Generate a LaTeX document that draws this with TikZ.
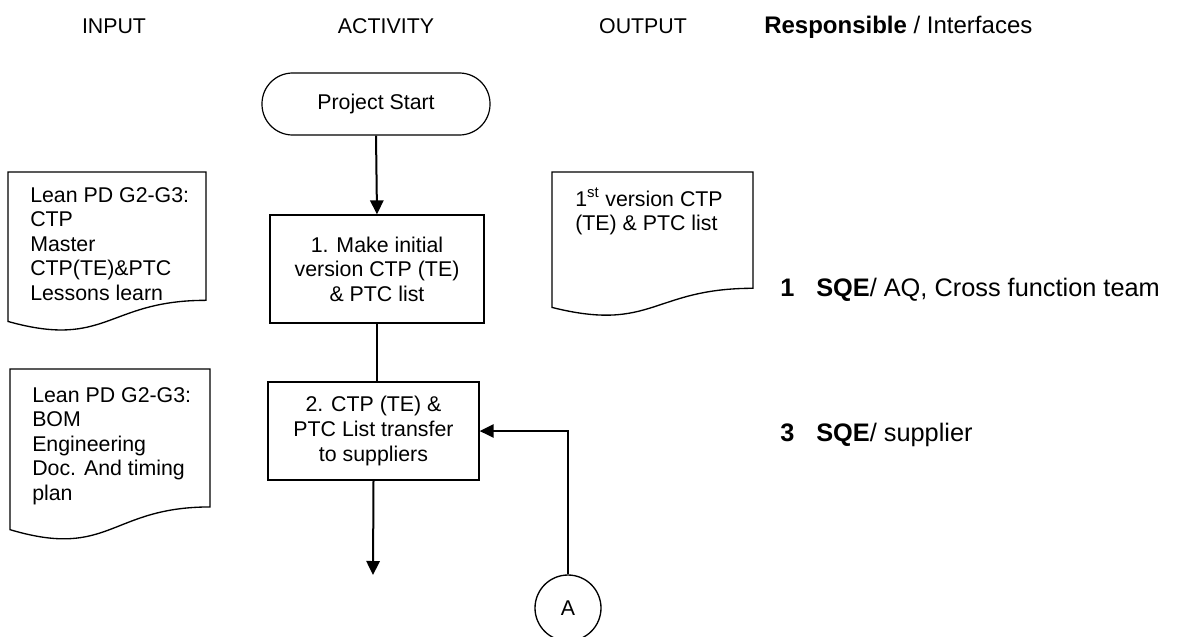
\documentclass[tikz,border=0pt]{standalone}
\usepackage{fontspec}
\setmainfont{Liberation Sans}
\usetikzlibrary{arrows.meta,positioning,calc}

% document sheet with a wavy lower edge: name, x, y, width, height
\newcommand{\docsheet}[5]{%
  \coordinate (#1) at (#2,#3);
  \pgfmathsetmacro{\dr}{#3+0.802*#5}
  \pgfmathsetmacro{\dl}{#3+0.934*#5}
  \pgfmathsetmacro{\dc}{#3+1.1075*#5}
  \pgfmathsetmacro{\dm}{#2+0.5*#4}
  \draw[sheet] (#1) -- (#2+#4,#3) -- (#2+#4,\dr)
    .. controls (\dm,\dr) and (\dm,\dc) .. (#2,\dl) -- cycle;
}

\begin{document}
\begin{tikzpicture}[
  x=0.75pt, y=-0.75pt,
  >={Triangle[length=10.5pt,width=10pt]},
  every node/.style={font=\fontsize{16}{18.4}\selectfont, inner sep=0pt},
  head/.style={anchor=base},
  terminal/.style={draw, rounded corners=23pt, minimum width=171pt, minimum height=46.5pt, line width=0.9pt},
  activity/.style={draw, align=center, line width=1pt},
  doctext/.style={align=left, anchor=north west},
  connector/.style={draw, circle, minimum size=49.5pt, line width=1pt},
  sheet/.style={line width=1pt},
  flow/.style={line width=1.5pt},
  resp/.style={anchor=base west, font=\fontsize{19}{22}\selectfont}
]
\useasboundingbox (0,0) rectangle (1178,636);

% Column headings
\node[head] (hin) at (114,33) {INPUT};
\node[head] (hact) at (386,33) {ACTIVITY};
\node[head] (hout) at (643,33) {OUTPUT};
\node[resp, font=\fontsize{18}{21}\selectfont] (hresp) at (764,33) {\textbf{Responsible} / Interfaces};

% Activities
\node[terminal] (start) at (376,104) {Project Start};
\node[activity, minimum width=160.5pt, minimum height=81pt] (act1) at (377,269)
  {1. Make initial\\version CTP (TE)\\\& PTC list};
\node[activity, minimum width=158.25pt, minimum height=73.5pt] (act2) at (373.5,431)
  {2. CTP (TE) \&\\PTC List transfer\\to suppliers};
\node[connector] (conA) at (568,608) {A};
\coordinate (next) at (373,575);

% Flow
\draw[flow, ->] (start.south) -- (act1.north);
\draw[flow] (act1.south) -- (act1.south |- act2.north);
\draw[flow, ->] (act2.south) -- (next);
\draw[flow, ->] (conA.north) |- (act2.east);

% Input documents
\docsheet{in1}{8}{172}{198}{160}
\node[doctext] (in1txt) at (30,187)
  {Lean PD G2-G3:\\CTP\\Master\\CTP(TE)\&PTC\\Lessons learn};
\docsheet{in2}{10}{369}{200}{172}
\node[doctext] (in2txt) at (32,387)
  {Lean PD G2-G3:\\BOM\\Engineering\\Doc. And timing\\plan};

% Output document
\docsheet{out1}{552}{172}{201}{145}
\node[doctext] (out1txt) at (575,188)
  {1\textsuperscript{st} version CTP\\(TE) \& PTC list};

% Responsible / interfaces
\node[resp] (r1num) at (780,296) {\textbf{1}};
\node[resp] (r1txt) at (816,296) {\textbf{SQE}/ AQ, Cross function team};
\node[resp] (r3num) at (780,441) {\textbf{3}};
\node[resp] (r3txt) at (816,441) {\textbf{SQE}/ supplier};

\end{tikzpicture}
\end{document}
